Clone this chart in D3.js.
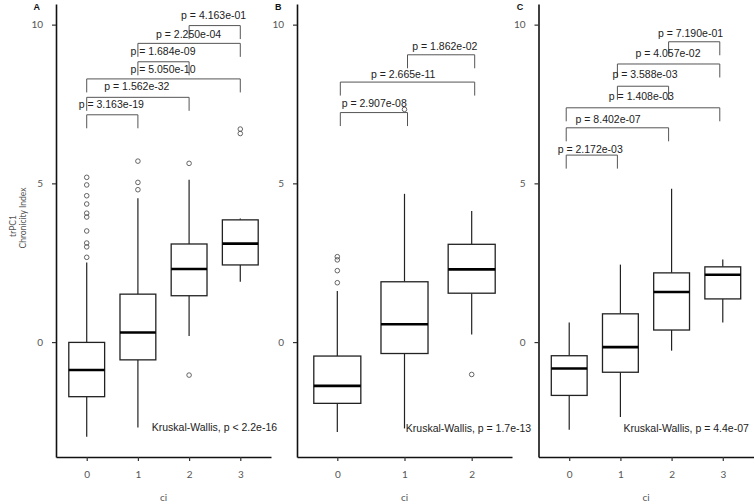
<!DOCTYPE html>
<html><head><meta charset="utf-8">
<script src="https://cdn.jsdelivr.net/npm/d3@7"></script>
<style>body{margin:0;background:#fff}</style>
</head><body><svg id="chart" width="755" height="504"></svg>
<script>
// ---------------- data ----------------
const panelLabels = ["A", "B", "C"];
const ciA = ["0", "1", "2", "3"];
const ciB = ["0", "1", "2"];
const ciC = ["0", "1", "2", "3"];

// box stats: [lower whisker, Q1, median, Q3, upper whisker]
const boxStatsA = [
  [-2.98, -1.72, -0.88, -0.01, 2.51],
  [-2.69, -0.56, 0.30, 1.51, 4.53],
  [0.19, 1.46, 2.30, 3.09, 5.11],
  [1.90, 2.43, 3.10, 3.85, 3.89]
];
const boxStatsB = [
  [-2.83, -1.93, -1.38, -0.44, 1.61],
  [-2.72, -0.36, 0.56, 1.90, 4.67],
  [0.24, 1.54, 2.29, 3.08, 4.13]
];
const boxStatsC = [
  [-2.76, -1.68, -0.83, -0.43, 0.62],
  [-2.36, -0.95, -0.16, 0.89, 2.44],
  [-0.27, 0.38, 1.58, 2.18, 4.83],
  [0.62, 1.36, 2.12, 2.37, 2.60]
];

const outliersA = [
  [5.19, 4.95, 4.61, 4.35, 4.06, 3.94, 3.50, 3.12, 3.00, 2.67],
  [5.70, 5.03, 4.80],
  [5.63, -1.04],
  [6.71, 6.57]
];
const outliersB = [
  [2.69, 2.59, 2.25, 1.87],
  [7.33],
  [-1.02]
];
const outliersC = [[], [], [], []];

// pairwise comparisons
const pairsA = [[2, 3], [1, 3], [1, 2], [0, 3], [0, 2], [0, 1]];
const pValuesA = ["p = 4.163e-01", "p = 2.250e-04", "p = 1.684e-09", "p = 5.050e-10", "p = 1.562e-32", "p = 3.163e-19"];
const bracketYA = [9.97, 9.41, 8.83, 8.29, 7.71, 7.16];
const labelXA = [2.48, 1.99, 1.49, 1.49, 0.98, 0.48];
const labelYA = [10.29, 9.72, 9.16, 8.61, 8.06, 7.51];

const pairsB = [[1, 2], [0, 2], [0, 1]];
const pValuesB = ["p = 1.862e-02", "p = 2.665e-11", "p = 2.907e-08"];
const bracketYB = [9.05, 8.19, 7.23];
const labelXB = [1.60, 0.98, 0.55];
const labelYB = [9.32, 8.44, 7.53];

const pairsC = [[2, 3], [1, 3], [1, 2], [0, 3], [0, 2], [0, 1]];
const pValuesC = ["p = 7.190e-01", "p = 4.057e-02", "p = 3.588e-03", "p = 1.408e-03", "p = 8.402e-07", "p = 2.172e-03"];
const bracketYC = [9.46, 8.76, 8.06, 7.38, 6.75, 5.89];
const labelXC = [2.37, 1.93, 1.48, 1.41, 0.76, 0.41];
const labelYC = [9.74, 9.11, 8.46, 7.76, 7.04, 6.09];

const kruskalText = ["Kruskal-Wallis, p < 2.2e-16", "Kruskal-Wallis, p = 1.7e-13", "Kruskal-Wallis, p = 4.4e-07"];
const kruskalX = [1.27, 1.02, 1.06];
const kruskalY = [-2.69, -2.72, -2.70];

const yTicks = [0, 5, 10];
const yTitleLines = ["trPC1", "Chronicity Index"];
const xTitle = "ci";

// ---------------- layout ----------------
const svg = d3.select("#chart");
const plotTop = 4, plotBottom = 457;
const y = d3.scaleLinear().domain([-3.62, 10.65]).range([plotBottom, plotTop]);

const panels = [
  {label: panelLabels[0], cats: ciA, stats: boxStatsA, out: outliersA, pairs: pairsA, pv: pValuesA, by: bracketYA, lx: labelXA, ly: labelYA, left: 56, right: 271, nudge: 0, labX: 36.7},
  {label: panelLabels[1], cats: ciB, stats: boxStatsB, out: outliersB, pairs: pairsB, pv: pValuesB, by: bracketYB, lx: labelXB, ly: labelYB, left: 297, right: 512, nudge: 3, labX: 278.3},
  {label: panelLabels[2], cats: ciC, stats: boxStatsC, out: outliersC, pairs: pairsC, pv: pValuesC, by: bracketYC, lx: labelXC, ly: labelYC, left: 538.5, right: 753.5, nudge: -3, labX: 520}
];

const txtFont = "'Liberation Sans', Arial, sans-serif";
const tickFont = "Lato, 'Open Sans', sans-serif";

panels.forEach((p, pi) => {
  const n = p.cats.length;
  const x = d3.scaleLinear().domain([-0.6, n - 1 + 0.6]).range([p.left, p.right]);
  const g = svg.append("g");

  // axes
  const yAxis = d3.axisLeft(y).tickValues(yTicks).tickSize(4).tickSizeOuter(0).tickPadding(9);
  const ya = g.append("g").attr("transform", `translate(${p.left},0)`).call(yAxis);
  const xAxis = d3.axisBottom(x).tickValues(d3.range(n)).tickFormat(i => p.cats[i]).tickSize(4).tickSizeOuter(0).tickPadding(10);
  const xa = g.append("g").attr("transform", `translate(0,${plotBottom})`).call(xAxis);
  [ya, xa].forEach(a => {
    a.select(".domain").attr("stroke", "#111").attr("stroke-width", 1.6);
    a.selectAll(".tick line").attr("stroke", "#333").attr("stroke-width", 1.2);
    a.selectAll(".tick text").attr("fill", "#555").style("font-family", tickFont).style("font-size", "10px");
  });

  // boxes
  const bw = 0.7;
  p.stats.forEach((s, i) => {
    const [lw, q1, med, q3, uw] = s;
    const cx = x(i);
    const half = (x(bw / 2) - x(0));
    g.append("line").attr("x1", cx).attr("x2", cx).attr("y1", y(lw)).attr("y2", y(q1)).attr("stroke", "#222").attr("stroke-width", 1.2);
    g.append("line").attr("x1", cx).attr("x2", cx).attr("y1", y(q3)).attr("y2", y(uw)).attr("stroke", "#222").attr("stroke-width", 1.2);
    g.append("rect").attr("x", cx - half).attr("width", 2 * half).attr("y", y(q3)).attr("height", y(q1) - y(q3))
      .attr("fill", "#fff").attr("stroke", "#222").attr("stroke-width", 1.3);
    g.append("line").attr("x1", cx - half).attr("x2", cx + half).attr("y1", y(med)).attr("y2", y(med)).attr("stroke", "#000").attr("stroke-width", 2.6);
    p.out[i].forEach(v => {
      g.append("circle").attr("cx", cx).attr("cy", y(v)).attr("r", 2.3).attr("fill", "none").attr("stroke", "#555").attr("stroke-width", 0.9);
    });
  });

  // brackets
  const drop = 13.5;
  p.pairs.forEach((pr, k) => {
    const x1 = x(pr[0]) + p.nudge, x2 = x(pr[1]) + p.nudge, yt = y(p.by[k]);
    g.append("path").attr("d", `M${x1},${yt + drop}L${x1},${yt}L${x2},${yt}L${x2},${yt + drop}`)
      .attr("fill", "none").attr("stroke", "#555").attr("stroke-width", 1);
    g.append("text").attr("x", x(p.lx[k])).attr("y", y(p.ly[k])).attr("text-anchor", "middle").attr("dominant-baseline", "central")
      .attr("fill", "#222").style("font-family", txtFont).style("font-size", "10.5px").text(p.pv[k]);
  });

  // Kruskal-Wallis
  g.append("text").attr("x", x(kruskalX[pi])).attr("y", y(kruskalY[pi])).attr("dominant-baseline", "central")
    .attr("fill", "#222").style("font-family", txtFont).style("font-size", "10.5px").text(kruskalText[pi]);

  // panel label
  g.append("text").attr("x", p.labX).attr("y", 7).attr("text-anchor", "middle").attr("dominant-baseline", "central")
    .attr("fill", "#111").style("font-family", txtFont).style("font-weight", "bold").style("font-size", "9px").text(p.label);

  // x title
  g.append("text").attr("x", (p.left + p.right) / 2).attr("y", 497).attr("text-anchor", "middle").attr("dominant-baseline", "central")
    .attr("fill", "#555").style("font-family", tickFont).style("font-size", "10px").text(xTitle);
});

// y title
svg.append("text").attr("transform", "translate(13,226) rotate(-90)").attr("text-anchor", "middle").attr("dominant-baseline", "central")
  .attr("fill", "#555").style("font-family", tickFont).style("font-size", "8.5px").text(yTitleLines[0]);
svg.append("text").attr("transform", "translate(22.5,218) rotate(-90)").attr("text-anchor", "middle").attr("dominant-baseline", "central")
  .attr("fill", "#555").style("font-family", tickFont).style("font-size", "8.5px").text(yTitleLines[1]);
</script></body></html>
